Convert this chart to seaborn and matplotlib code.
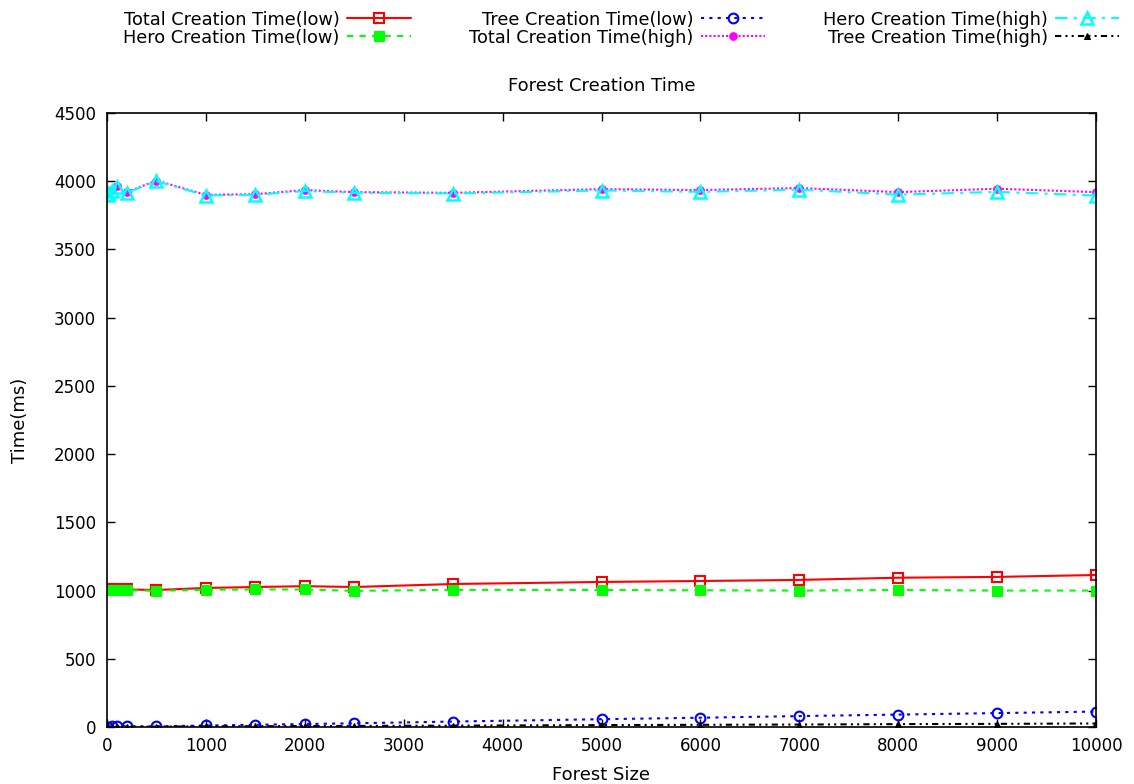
import numpy as np
import pandas as pd
import matplotlib
matplotlib.use("Agg")
import matplotlib.pyplot as plt
import seaborn as sns

forest_size = [1, 10, 50, 100, 200, 500, 1000, 1500, 2000, 2500, 3500, 5000, 6000, 7000, 8000, 9000, 10000]

total_low = [1010, 1008, 1010, 1012, 1008, 1004, 1019, 1026, 1032, 1026, 1048, 1063, 1070, 1078, 1094, 1100, 1114]
hero_low = [1005, 1003, 1004, 1006, 1002, 998, 1006, 1008, 1008, 998, 1005, 1004, 1002, 1000, 1004, 1000, 1000]
tree_low = [2, 3, 5, 5, 4, 5, 11, 16, 22, 27, 40, 57, 68, 80, 91, 102, 113]
total_high = [3905, 3915, 3935, 3965, 3920, 4005, 3900, 3905, 3935, 3920, 3915, 3942, 3935, 3950, 3920, 3945, 3920]
hero_high = [3900, 3910, 3930, 3960, 3915, 4000, 3895, 3900, 3928, 3915, 3910, 3932, 3922, 3938, 3902, 3922, 3895]
tree_high = [1, 1, 2, 2, 2, 3, 5, 6, 7, 8, 10, 14, 16, 18, 21, 23, 26]

labels = ["Total Creation Time(low)", "Hero Creation Time(low)", "Tree Creation Time(low)",
          "Total Creation Time(high)", "Hero Creation Time(high)", "Tree Creation Time(high)"]

sns.set_style("ticks")
plt.rcParams['font.family'] = ['DejaVu Sans']
plt.rcParams['font.size'] = 12
for k in ["text.color", "axes.labelcolor", "xtick.color", "ytick.color", "axes.edgecolor"]:
    plt.rcParams[k] = "black"

fig = plt.figure(figsize=(11.34, 7.84), dpi=100)
ax = fig.add_axes([107/1134, 1 - 727/784, (1096 - 107)/1134, (727 - 113)/784])

series = [
    (total_low, dict(color="#ff0000", linestyle="-", marker="s", markerfacecolor="none",
                     markeredgecolor="#ff0000", markersize=7.5, markeredgewidth=1.5)),
    (hero_low, dict(color="#00ff00", linestyle=(0, (3, 3)), marker="s", markerfacecolor="#00ff00",
                    markeredgecolor="#00ff00", markersize=6.5)),
    (tree_low, dict(color="#0000ff", linestyle=(0, (1.5, 2.5)), marker="o", markerfacecolor="none",
                    markeredgecolor="#0000ff", markersize=7, markeredgewidth=1.5)),
    (total_high, dict(color="#ff00ff", linestyle=(0, (1, 1)), marker="o", markerfacecolor="#ff00ff",
                      markeredgecolor="#ff00ff", markersize=5.5)),
    (hero_high, dict(color="#00ffff", linestyle=(0, (6, 3, 1.5, 3)), marker="^", markerfacecolor="none",
                     markeredgecolor="#00ffff", markersize=8, markeredgewidth=1.8)),
    (tree_high, dict(color="#000000", linestyle=(0, (3, 2, 1, 2, 1, 2)), marker="^", markerfacecolor="#000000",
                     markeredgecolor="#000000", markersize=5)),
]

for (vals, style), lab in zip(series, labels):
    df = pd.DataFrame({"Forest Size": forest_size, "Time(ms)": vals})
    sns.lineplot(data=df, x="Forest Size", y="Time(ms)", ax=ax, label=lab, linewidth=1.5, **style)

ax.set_xlim(0, 10000)
ax.set_ylim(0, 4500)
ax.set_xticks(np.arange(0, 10001, 1000))
ax.set_yticks(np.arange(0, 4501, 500))
ax.tick_params(direction="in", top=True, right=True, length=6, width=1, labelsize=12, colors="black")
ax.tick_params(axis="x", pad=7)
ax.tick_params(axis="y", pad=8)
for s in ax.spines.values():
    s.set_visible(True)
    s.set_linewidth(1.2)
    s.set_color("black")
ax.set_xlabel("Forest Size", fontsize=13, labelpad=8)
ax.set_ylabel("Time(ms)", fontsize=13, labelpad=18)
ax.set_title("Forest Creation Time", fontsize=13, pad=16)

handles, labs = ax.get_legend_handles_labels()
ax.get_legend().remove()
fig.legend(handles, labs, loc="upper right", bbox_to_anchor=(1130/1134, 1.0), ncol=3,
           markerfirst=False, frameon=False, handlelength=3.6, handletextpad=0.4,
           columnspacing=3.3, labelspacing=0.0, fontsize=12.8, borderaxespad=0.2)

fig.savefig("out.png", dpi=100)
